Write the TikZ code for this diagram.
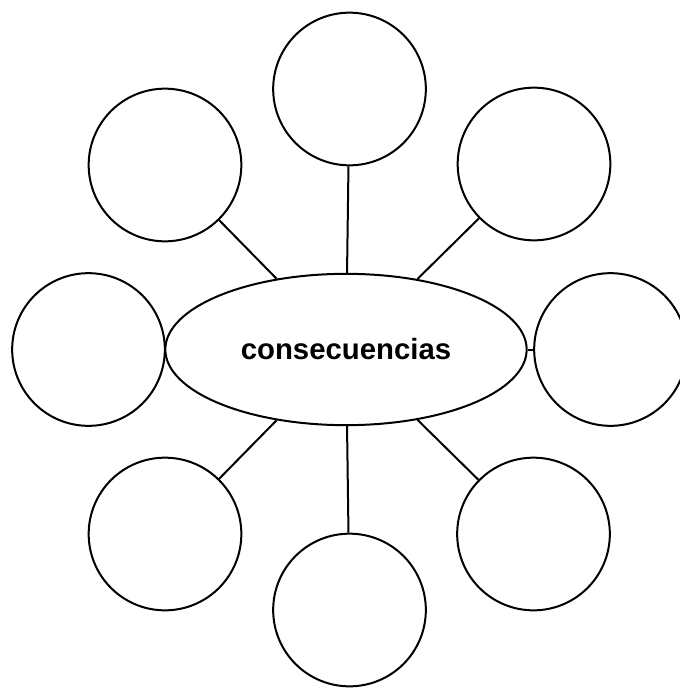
\documentclass[tikz,border=0pt]{standalone}
\usepackage{fontspec}
\setmainfont{Liberation Sans}
\usetikzlibrary{shapes.geometric}
\begin{document}
\begin{tikzpicture}[x = 0.75pt, y = -0.75pt, line width = 1.5pt,
  bubble/.style = {draw, circle, minimum size = 114.5pt, inner sep = 0pt},
  hub/.style = {draw, ellipse, minimum width = 271pt, minimum height = 113.5pt, inner sep = 0pt,
    font = \fontsize{22}{26}\selectfont\bfseries}]
\useasboundingbox (0,0) rectangle (679,688);
\node[hub] at (346,349.5) (cons) {consecuencias};
\node[bubble] at (349.5,89) (c1) {};
\node[bubble] at (534,164) (c2) {};
\node[bubble] at (610.5,349.5) (c3) {};
\node[bubble] at (533.5,534) (c4) {};
\node[bubble] at (349.5,610) (c5) {};
\node[bubble] at (165,534) (c6) {};
\node[bubble] at (88.5,349.5) (c7) {};
\node[bubble] at (165,165) (c8) {};
\draw (cons) -- (c1);
\draw (cons) -- (c2);
\draw (cons) -- (c3);
\draw (cons) -- (c4);
\draw (cons) -- (c5);
\draw (cons) -- (c6);
\draw (cons) -- (c8);
\end{tikzpicture}
\end{document}
